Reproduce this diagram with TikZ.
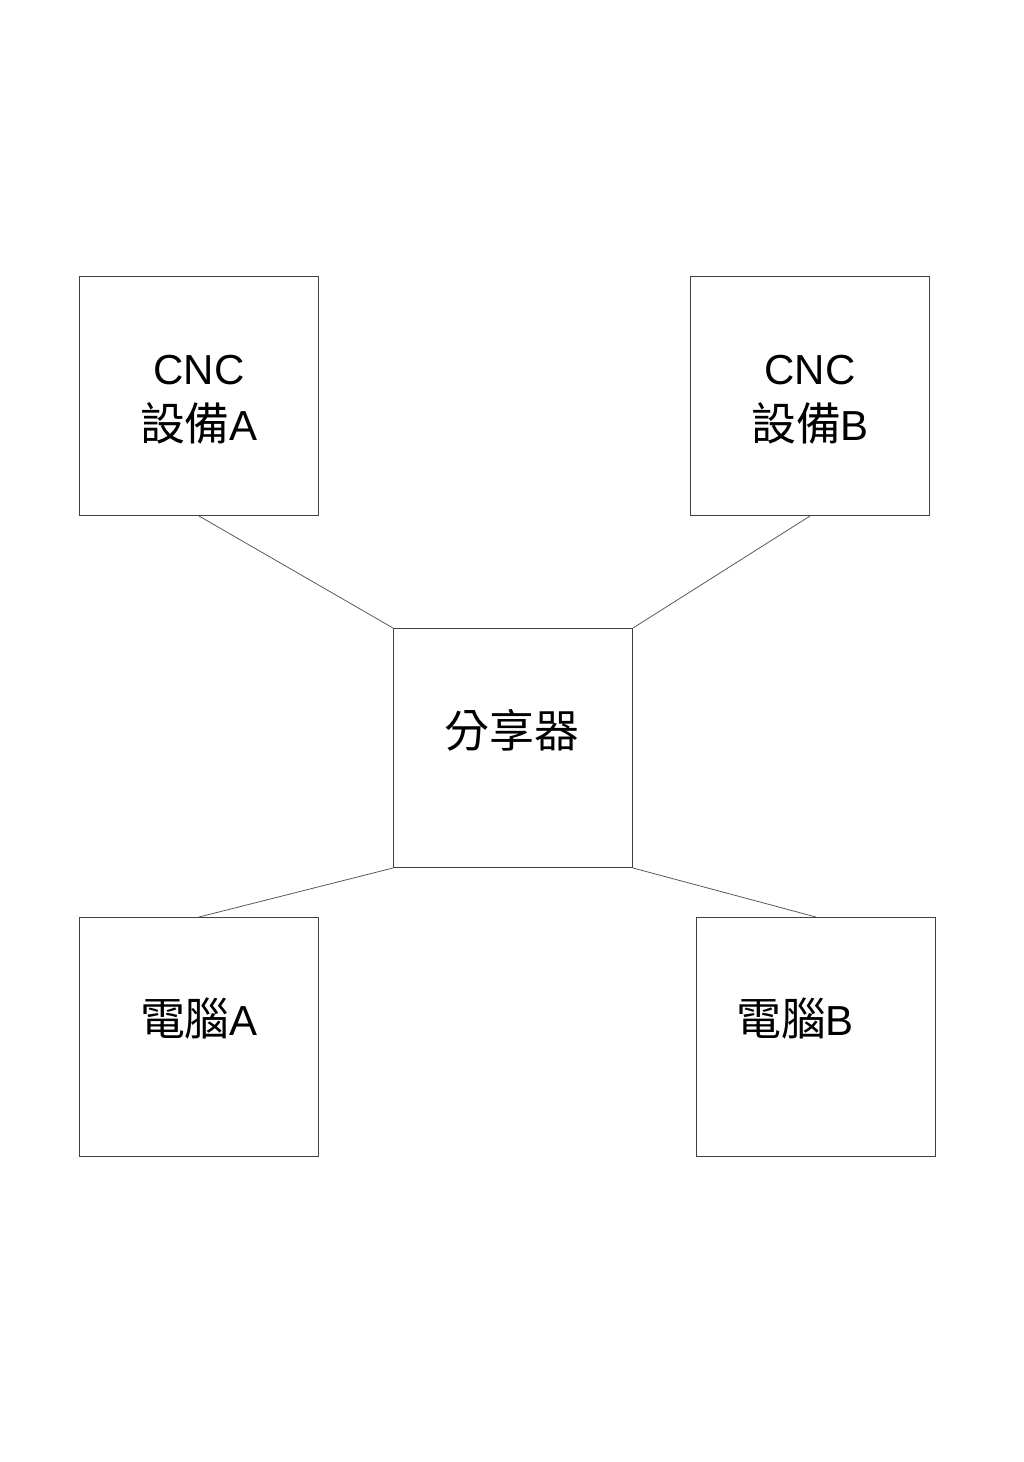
\documentclass[tikz,border=0pt]{standalone}
\usepackage{fontspec}
\setmainfont{Liberation Sans}
\newfontfamily\cjk[Scale=1.07]{Noto Sans CJK TC}
\begin{document}
\begin{tikzpicture}[x=1pt,y=-1pt,
  box/.style={draw=black!75,line width=1pt,minimum width=239pt,minimum height=239pt,inner sep=0pt,anchor=north west},
  lbl/.style={font=\fontsize{42}{56}\selectfont,align=center,inner sep=0pt},
  link/.style={draw=black!65,line width=0.8pt}]
\useasboundingbox (0,0) rectangle (1024,1462);
\node[box] (ca) at (79,276) {};
\node[box] (cb) at (690,276) {};
\node[box] (r) at (393,628) {};
\node[box] (pa) at (79,917) {};
\node[box] (pb) at (696,917) {};
\node[lbl] (tca) at (199,400) {CNC\\{\cjk 設備}A};
\node[lbl] (tcb) at (810,400) {CNC\\{\cjk 設備}B};
\node[lbl] (tr) at (512,730) {\cjk 分享器};
\node[lbl] (tpa) at (199,1019) {{\cjk 電腦}A};
\node[lbl] (tpb) at (795,1019) {{\cjk 電腦}B};
\draw[link] (ca.south) -- (r.north west);
\draw[link] (cb.south) -- (r.north east);
\draw[link] (pa.north) -- (r.south west);
\draw[link] (pb.north) -- (r.south east);
\end{tikzpicture}
\end{document}
